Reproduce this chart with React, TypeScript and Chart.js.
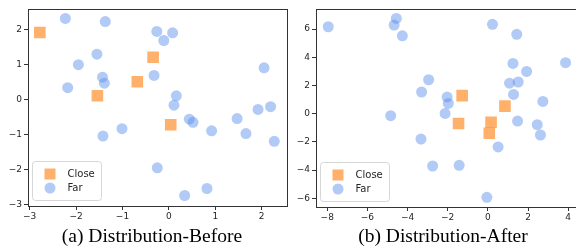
import React, { useEffect, useRef } from 'react';
import { Chart, registerables } from 'chart.js';

Chart.register(...registerables);

// ---------- Data: (a) Distribution-Before ----------
const closeBeforeX = [-2.78, -0.34, -0.68, -1.54, 0.04];
const closeBeforeY = [1.91, 1.2, 0.5, 0.1, -0.73];
const farBeforeX = [-2.23, -1.37, -0.26, 0.08, -0.11, -1.55, -1.95, -1.43, -1.39, -2.18, -0.32, 0.16, 0.11, 0.44, 0.52, -1.01, -1.42, 0.92, 1.47, 1.66, 1.92, 2.19, 2.05, 2.27, -0.25, 0.34, 0.82];
const farBeforeY = [2.31, 2.22, 1.94, 1.9, 1.68, 1.29, 0.99, 0.63, 0.46, 0.33, 0.68, 0.1, -0.17, -0.57, -0.66, -0.84, -1.05, -0.9, -0.55, -0.98, -0.29, -0.21, 0.9, -1.2, -1.96, -2.75, -2.55];
const beforeXTicks = [-3, -2, -1, 0, 1, 2];
const beforeYTicks = [-3, -2, -1, 0, 1, 2];

// ---------- Data: (b) Distribution-After ----------
const closeAfterX = [-1.28, 0.85, -1.46, 0.16, 0.07];
const closeAfterY = [1.28, 0.54, -0.69, -0.61, -1.39];
const farAfterX = [-7.95, -4.56, -4.67, -4.26, 0.23, 1.44, 3.87, 1.25, 1.93, 1.08, 1.51, 1.28, 2.74, -2.95, -3.3, -2.03, -1.97, -2.13, -4.84, 1.48, 2.46, 2.62, -3.33, 0.51, -2.75, -1.43, -0.05];
const farAfterY = [6.17, 6.76, 6.29, 5.53, 6.34, 5.63, 3.62, 3.57, 3.0, 2.17, 2.25, 1.37, 0.87, 2.41, 1.54, 1.18, 0.73, 0.02, -0.14, -0.52, -0.78, -1.51, -1.8, -2.36, -3.71, -3.66, -5.93];
const afterXTicks = [-8, -6, -4, -2, 0, 2, 4];
const afterYTicks = [-6, -4, -2, 0, 2, 4, 6];

const seriesLabels = ['Close', 'Far'];
const captions = ['(a) Distribution-Before', '(b) Distribution-After'];

const ORANGE = 'rgba(255,127,14,0.62)';
const BLUE = 'rgba(100,149,237,0.5)';
const FRAME = '#333333';
const TEXT = '#262626';

const zip = (xs: number[], ys: number[]) => xs.map((x, i) => ({ x, y: ys[i] }));

const frameLegendPlugin = {
  id: 'frameLegend',
  afterDatasetsDraw(chart: any) {
    const { ctx, chartArea: a } = chart;
    ctx.save();
    // legend box
    const bx = Math.round(a.left) + 4.5;
    const bw = 69;
    const bh = 39;
    const by = Math.round(a.bottom) - 5.5 - bh;
    const r = 3;
    ctx.beginPath();
    ctx.moveTo(bx + r, by);
    ctx.lineTo(bx + bw - r, by);
    ctx.quadraticCurveTo(bx + bw, by, bx + bw, by + r);
    ctx.lineTo(bx + bw, by + bh - r);
    ctx.quadraticCurveTo(bx + bw, by + bh, bx + bw - r, by + bh);
    ctx.lineTo(bx + r, by + bh);
    ctx.quadraticCurveTo(bx, by + bh, bx, by + bh - r);
    ctx.lineTo(bx, by + r);
    ctx.quadraticCurveTo(bx, by, bx + r, by);
    ctx.closePath();
    ctx.fillStyle = 'rgba(255,255,255,0.8)';
    ctx.fill();
    ctx.strokeStyle = '#d6d6d6';
    ctx.lineWidth = 1;
    ctx.stroke();
    chart.data.datasets.forEach((ds: any, i: number) => {
      const cy = by + 12.5 + i * 14;
      const cx = Math.round(a.left) + 22;
      ctx.fillStyle = ds.backgroundColor;
      if (ds.pointStyle === 'rect') {
        ctx.fillRect(cx - 5.5, cy - 5.5, 11, 11);
      } else {
        ctx.beginPath();
        ctx.arc(cx, cy, 5.5, 0, Math.PI * 2);
        ctx.fill();
      }
      ctx.fillStyle = TEXT;
      ctx.font = '10px "DejaVu Sans"';
      ctx.textBaseline = 'middle';
      ctx.textAlign = 'left';
      ctx.fillText(ds.label, Math.round(a.left) + 39.5, cy + 0.5);
    });
    // frame
    ctx.strokeStyle = FRAME;
    ctx.lineWidth = 1;
    ctx.strokeRect(
      Math.round(a.left) + 0.5,
      Math.round(a.top) + 0.5,
      Math.round(a.right - a.left),
      Math.round(a.bottom - a.top)
    );
    ctx.restore();
  },
};

type PanelProps = {
  closeX: number[];
  closeY: number[];
  farX: number[];
  farY: number[];
  xTicks: number[];
  yTicks: number[];
  xMin: number;
  xMax: number;
  yMin: number;
  yMax: number;
  yAxisWidth: number;
  xAxisHeight: number;
  padRight: number;
  width: number;
  height: number;
  left: number;
};

const fmt = (v: any) => String(v).replace('-', '\u2212');

function Panel(p: PanelProps) {
  const ref = useRef<HTMLCanvasElement>(null);
  useEffect(() => {
    if (!ref.current) return;
    const tickFont = { family: '"DejaVu Sans"', size: 9 };
    const chart = new Chart(ref.current, {
      type: 'scatter',
      data: {
        datasets: [
          {
            label: seriesLabels[0],
            data: zip(p.closeX, p.closeY),
            pointStyle: 'rect',
            pointRadius: 8.2,
            backgroundColor: ORANGE,
            borderWidth: 0,
          },
          {
            label: seriesLabels[1],
            data: zip(p.farX, p.farY),
            pointStyle: 'circle',
            pointRadius: 5.5,
            backgroundColor: BLUE,
            borderWidth: 0,
          },
        ] as any,
      },
      options: {
        animation: false,
        responsive: false,
        maintainAspectRatio: false,
        devicePixelRatio: 1,
        layout: { padding: { top: 9, right: p.padRight, left: 0, bottom: 0 } },
        plugins: { legend: { display: false }, tooltip: { enabled: false } },
        scales: {
          x: {
            type: 'linear',
            min: p.xMin,
            max: p.xMax,
            grid: { drawOnChartArea: false, drawTicks: true, tickLength: 4, color: FRAME },
            border: { display: false },
            ticks: { font: tickFont, color: TEXT, padding: 1, maxRotation: 0, autoSkip: false, callback: fmt },
            afterBuildTicks: (s: any) => {
              s.ticks = p.xTicks.map((v) => ({ value: v }));
            },
            afterFit: (s: any) => {
              s.height = p.xAxisHeight;
            },
          },
          y: {
            type: 'linear',
            min: p.yMin,
            max: p.yMax,
            grid: { drawOnChartArea: false, drawTicks: true, tickLength: 4, color: FRAME },
            border: { display: false },
            ticks: { font: tickFont, color: TEXT, padding: 2, autoSkip: false, callback: fmt },
            afterBuildTicks: (s: any) => {
              s.ticks = p.yTicks.map((v) => ({ value: v }));
            },
            afterFit: (s: any) => {
              s.width = p.yAxisWidth;
            },
          },
        },
      } as any,
      plugins: [frameLegendPlugin],
    });
    return () => chart.destroy();
  }, []);
  return (
    <canvas
      ref={ref}
      width={p.width}
      height={p.height}
      style={{ position: 'absolute', left: p.left, top: 0, width: p.width, height: p.height }}
    />
  );
}

export default function App() {
  const captionStyle: React.CSSProperties = {
    position: 'absolute',
    top: 225,
    width: 260,
    textAlign: 'center',
    fontFamily: '"Liberation Serif", "Times New Roman", serif',
    fontSize: 19.5,
    lineHeight: '22px',
    color: '#000',
    whiteSpace: 'nowrap',
  };
  return (
    <div
      style={{
        position: 'fixed',
        left: 0,
        top: 0,
        width: 576,
        height: 251,
        overflow: 'hidden',
        background: '#fff',
      }}
    >
      <Panel
        closeX={closeBeforeX}
        closeY={closeBeforeY}
        farX={farBeforeX}
        farY={farBeforeY}
        xTicks={beforeXTicks}
        yTicks={beforeYTicks}
        xMin={-3.035}
        xMax={2.54}
        yMin={-3.05}
        yMax={2.58}
        yAxisWidth={28}
        xAxisHeight={20}
        padRight={3}
        width={295}
        height={226}
        left={0}
      />
      <Panel
        closeX={closeAfterX}
        closeY={closeAfterY}
        farX={farAfterX}
        farY={farAfterY}
        xTicks={afterXTicks}
        yTicks={afterYTicks}
        xMin={-8.56}
        xMax={4.43}
        yMin={-6.62}
        yMax={7.43}
        yAxisWidth={21}
        xAxisHeight={19}
        padRight={5}
        width={290}
        height={226}
        left={295}
      />
      <div style={{ ...captionStyle, left: 152 - 130 }}>{captions[0]}</div>
      <div style={{ ...captionStyle, left: 443 - 130 }}>{captions[1]}</div>
    </div>
  );
}
